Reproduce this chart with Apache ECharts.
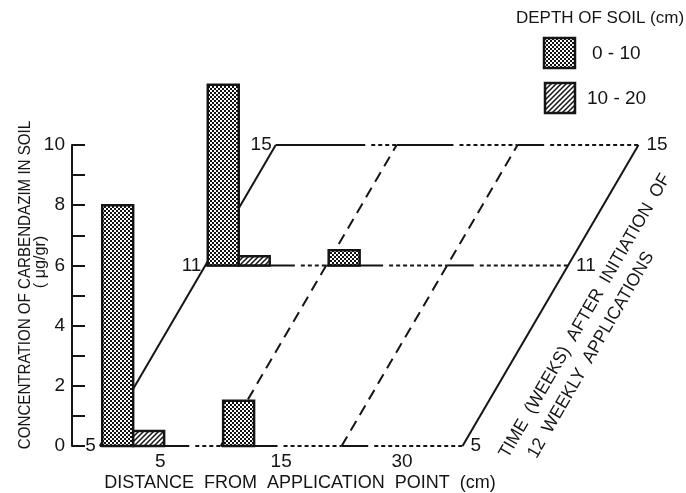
<!DOCTYPE html>
<html>
<head>
<meta charset="utf-8">
<script src="https://cdn.jsdelivr.net/npm/echarts@6/dist/echarts.min.js"></script>
<style>
  html, body { margin: 0; padding: 0; background: #fff; }
  #chart { width: 686px; height: 493px; }
</style>
</head>
<body>
<div id="chart"></div>
<script>
// distance from application point (cm), one band each
const distances = ['5', '15', '30'];
// time (weeks) after initiation of applications, one plane each
const weeks = [5, 11, 15];
// concentration (ug/gr), rows = weeks, columns = distances
const soil0to10 = [
  [8.0, 1.5, null],
  [6.0, 0.5, null],
  [null, null, null]
];
const soil10to20 = [
  [0.5, null, null],
  [0.3, null, null],
  [null, null, null]
];
const yLabels = [0, 2, 4, 6, 8, 10];

// depth direction: how far one week moves the plane (in band / concentration units)
const SHIFT_X = 0.1455;
const SHIFT_Y = 1;
const BAR_W = 0.256;
const BAR_OFF = 0.02;
const FONT = '"Liberation Sans", Arial, sans-serif';
const INK = '#151515';

function proj(x, y, wk) {
  return [x + (wk - weeks[0]) * SHIFT_X, y + (wk - weeks[0]) * SHIFT_Y];
}

// fill patterns
function checker() {
  const c = document.createElement('canvas');
  c.width = c.height = 4;
  const g = c.getContext('2d');
  g.fillStyle = '#111111';
  g.fillRect(0, 0, 4, 4);
  g.fillStyle = '#ffffff';
  g.fillRect(0, 0, 2, 2);
  g.fillRect(2, 2, 2, 2);
  return c;
}
function hatch() {
  const c = document.createElement('canvas');
  c.width = c.height = 5;
  const g = c.getContext('2d');
  g.fillStyle = '#ffffff';
  g.fillRect(0, 0, 5, 5);
  g.strokeStyle = '#141414';
  g.lineWidth = 1.5;
  g.beginPath();
  g.moveTo(-1, 6); g.lineTo(6, -1);
  g.moveTo(-1, 1); g.lineTo(1, -1);
  g.moveTo(4, 6); g.lineTo(6, 4);
  g.stroke();
  return c;
}
const fillChecker = { image: checker(), repeat: 'repeat' };
const fillHatch = { image: hatch(), repeat: 'repeat' };

// bar data [distanceIndex, week, value], far planes first so near ones sit on top
function barData(table) {
  const out = [];
  for (let w = weeks.length - 1; w >= 0; w--) {
    table[w].forEach((v, d) => {
      if (v != null) out.push([d, weeks[w], v]);
    });
  }
  return out;
}

function barRender(offset, fill) {
  return function (params, api) {
    const d = api.value(0), wk = api.value(1), v = api.value(2);
    const x0 = d + offset;
    const p0 = api.coord(proj(x0, 0, wk));
    const p1 = api.coord(proj(x0 + BAR_W, v, wk));
    return {
      type: 'rect',
      shape: { x: p0[0], y: p1[1], width: p1[0] - p0[0], height: p0[1] - p1[1] },
      style: { fill: fill, stroke: INK, lineWidth: 2.5 }
    };
  };
}

// solid part of each plane's band line, rest is dotted
const solidPart = [0.74, 0.47, 0.22];

function planeRender(params, api) {
  const kids = [];
  const n = distances.length;
  const first = weeks[0], last = weeks[weeks.length - 1];
  // oblique lines along the time direction
  for (let k = 0; k <= n; k++) {
    const a = api.coord(proj(k, 0, first));
    const b = api.coord(proj(k, 0, last));
    const edge = k === 0 || k === n;
    kids.push({
      type: 'line',
      shape: { x1: a[0], y1: a[1], x2: b[0], y2: b[1] },
      style: { stroke: INK, lineWidth: 2, lineDash: edge ? null : [11, 7] }
    });
  }
  // band lines of each week plane
  weeks.forEach(wk => {
    for (let b = 0; b < n; b++) {
      const a = api.coord(proj(b, 0, wk));
      const m = api.coord(proj(b + solidPart[b], 0, wk));
      const e = api.coord(proj(b + 1, 0, wk));
      kids.push({ type: 'line', shape: { x1: a[0], y1: a[1], x2: m[0], y2: m[1] },
        style: { stroke: INK, lineWidth: 2 } });
      kids.push({ type: 'line', shape: { x1: m[0] + 6, y1: m[1], x2: e[0], y2: e[1] },
        style: { stroke: INK, lineWidth: 2, lineDash: [4, 3] } });
    }
    const l = api.coord(proj(0, 0, wk));
    const r = api.coord(proj(n, 0, wk));
    const ts = { text: String(wk), fill: INK, font: '19px ' + FONT, verticalAlign: 'middle' };
    kids.push({ type: 'text', x: l[0] - 4, y: l[1], style: Object.assign({}, ts, { align: 'right' }) });
    kids.push({ type: 'text', x: r[0] + 8, y: r[1], style: Object.assign({}, ts, { align: 'left' }) });
  });
  // distance labels under the nearest plane
  distances.forEach((name, b) => {
    const p = api.coord(proj(b + 0.5, 0, first));
    kids.push({ type: 'text', x: p[0], y: p[1] + 6,
      style: { text: name, fill: INK, font: '19px ' + FONT, align: 'center', verticalAlign: 'top' } });
  });
  return { type: 'group', children: kids };
}

const chart = echarts.init(document.getElementById('chart'));
chart.setOption({
  animation: false,
  backgroundColor: '#fff',
  grid: { left: 72, right: 30, top: 145, bottom: 47 },
  xAxis: { type: 'value', min: -0.23, max: 4.6, show: false },
  yAxis: {
    type: 'value', min: 0, max: 10, interval: 1,
    axisLine: { show: true, onZero: false, lineStyle: { color: INK, width: 2 } },
    axisTick: { show: true, inside: true, length: 13, lineStyle: { color: INK, width: 2 } },
    axisLabel: {
      margin: 7, color: INK, fontSize: 19, fontFamily: FONT,
      formatter: v => (yLabels.indexOf(v) >= 0 ? String(v) : '')
    },
    splitLine: { show: false }
  },
  series: [
    { type: 'custom', name: 'plane', clip: false, data: [[0, 0]], renderItem: planeRender, silent: true, z: 1 },
    { type: 'custom', name: '0-10', clip: false, data: barData(soil0to10), renderItem: barRender(BAR_OFF, fillChecker), z: 2 },
    { type: 'custom', name: '10-20', clip: false, data: barData(soil10to20), renderItem: barRender(BAR_OFF + BAR_W, fillHatch), z: 2 }
  ],
  graphic: [
    { type: 'text', x: 25, y: 285, rotation: Math.PI / 2, scaleX: 0.89,
      style: { text: 'CONCENTRATION OF CARBENDAZIM IN SOIL', font: '17px ' + FONT, fill: INK, align: 'center', verticalAlign: 'middle' } },
    { type: 'text', x: 40, y: 262, rotation: Math.PI / 2, scaleX: 0.95,
      style: { text: '( \u03bcg/gr)', font: '17px ' + FONT, fill: INK, align: 'center', verticalAlign: 'middle' } },
    { type: 'text', x: 300, y: 483,
      style: { text: 'DISTANCE  FROM  APPLICATION  POINT  (cm)', font: '18px ' + FONT, fill: INK, align: 'center', verticalAlign: 'middle' } },
    { type: 'text', x: 585, y: 316, rotation: 1.046, scaleX: 0.965,
      style: { text: 'TIME  (WEEKS)  AFTER  INITIATION  OF', font: '18px ' + FONT, fill: INK, align: 'center', verticalAlign: 'middle' } },
    { type: 'text', x: 591, y: 355, rotation: 1.046, scaleX: 0.965,
      style: { text: '12  WEEKLY  APPLICATIONS', font: '18px ' + FONT, fill: INK, align: 'center', verticalAlign: 'middle' } },
    { type: 'text', x: 600, y: 18,
      style: { text: 'DEPTH OF SOIL (cm)', font: '17px ' + FONT, fill: INK, align: 'center', verticalAlign: 'middle' } },
    { type: 'rect', shape: { x: 544, y: 38, width: 31, height: 30 },
      style: { fill: fillChecker, stroke: INK, lineWidth: 2.5 } },
    { type: 'text', x: 592, y: 54,
      style: { text: '0 - 10', font: '19px ' + FONT, fill: INK, align: 'left', verticalAlign: 'middle' } },
    { type: 'rect', shape: { x: 545, y: 83, width: 30, height: 30 },
      style: { fill: fillHatch, stroke: INK, lineWidth: 2.5 } },
    { type: 'text', x: 587, y: 99,
      style: { text: '10 - 20', font: '19px ' + FONT, fill: INK, align: 'left', verticalAlign: 'middle' } }
  ]
});
</script>
</body>
</html>
